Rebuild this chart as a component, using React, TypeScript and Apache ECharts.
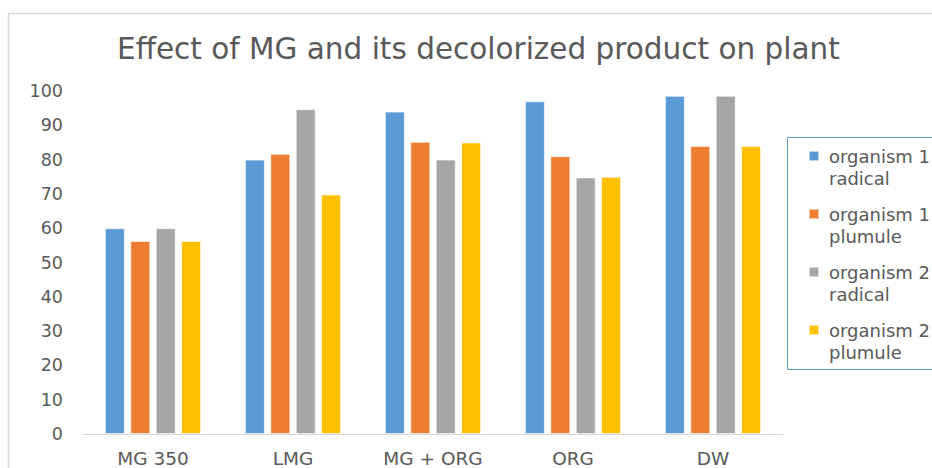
import React, { useEffect, useRef } from "react";
import * as echarts from "echarts";

const categories = ["MG 350", "LMG", "MG + ORG", "ORG", "DW"];
const seriesNames = [
  "organism 1\nradical",
  "organism 1\nplumule",
  "organism 2\nradical",
  "organism 2\nplumule",
];
const org1Radical = [60, 80, 94, 97, 98.6];
const org1Plumule = [56.3, 81.7, 85.2, 81, 84];
const org2Radical = [60, 94.7, 80, 74.8, 98.6];
const org2Plumule = [56.3, 69.8, 85, 75, 84];
const yTicks = [0, 10, 20, 30, 40, 50, 60, 70, 80, 90, 100];

const colors = ["#5B9BD5", "#ED7D31", "#A5A5A5", "#FFC000"];
const FONT = "DejaVu Sans";
const TEXT = "#595959";

export default function App() {
  const ref = useRef<HTMLDivElement>(null);
  useEffect(() => {
    if (!ref.current) return;
    const chart = echarts.init(ref.current, undefined, { renderer: "svg" });
    const values = [org1Radical, org1Plumule, org2Radical, org2Plumule];
    chart.setOption({
      animation: false,
      color: colors,
      title: {
        text: "Effect of MG and its decolorized product on plant",
        left: 112,
        top: 29,
        textStyle: { fontFamily: FONT, fontSize: 29.5, fontWeight: "normal", color: TEXT },
      },
      graphic: [
        {
          type: "rect",
          shape: { x: 8.5, y: 13.5, width: 940, height: 470 },
          style: { fill: "none", stroke: "#d9d9d9", lineWidth: 1.5 },
          silent: true,
          z: -1,
        },
        {
          type: "rect",
          shape: { x: 787.5, y: 137.5, width: 160, height: 232 },
          style: { fill: "#fff", stroke: "#5B9BD5", lineWidth: 1 },
          silent: true,
          z: 0,
        },
      ],
      legend: {
        orient: "vertical",
        left: 803,
        top: 140,
        itemWidth: 15,
        itemHeight: 32,
        itemGap: 14,
        icon: "path://M0,0h10v10h-10z M14.95,31.95h0.05v0.05h-0.05z",
        z: 5,
        textStyle: { fontFamily: FONT, fontSize: 18, color: TEXT, lineHeight: 22 },
        data: seriesNames,
      },
      grid: { left: 83, right: 149, top: 91, bottom: 33, containLabel: false },
      xAxis: {
        type: "category",
        data: categories,
        axisLine: { lineStyle: { color: "#d9d9d9", width: 1 } },
        axisTick: { show: false },
        axisLabel: { fontFamily: FONT, fontSize: 18.5, color: TEXT, margin: 15 },
      },
      yAxis: {
        type: "value",
        min: yTicks[0],
        max: yTicks[yTicks.length - 1],
        interval: yTicks[1] - yTicks[0],
        splitLine: { show: false },
        axisLine: { show: false },
        axisTick: { show: false },
        axisLabel: { fontFamily: FONT, fontSize: 17.5, color: TEXT, margin: 20 },
      },
      series: seriesNames.map((name, i) => ({
        name,
        type: "bar",
        data: values[i],
        barWidth: 20,
        barGap: "27%",
        itemStyle: { borderColor: "rgba(255,255,255,0.6)", borderWidth: 1 },
      })),
    });
    return () => chart.dispose();
  }, []);
  return <div ref={ref} style={{ width: 932, height: 468, position: "absolute", left: 0, top: 0 }} />;
}
